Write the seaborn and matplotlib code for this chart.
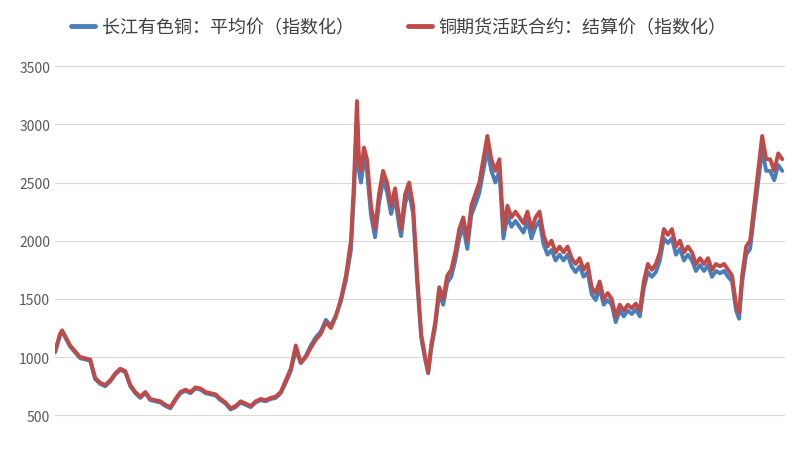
import pandas as pd
import matplotlib.pyplot as plt
import seaborn as sns

sns.set_style("white")
plt.rcParams['font.family'] = ['Noto Sans CJK SC', 'DejaVu Sans']

# time position of each sample (arbitrary time units)
time = ([55, 60, 62, 70, 80, 90, 95, 100, 105, 110, 115, 120, 125, 130, 135, 140, 145, 150]
        + list(range(160, 351, 5))
        + [353, 356, 358, 360, 363, 366]
        + list(range(370, 399, 4)) + list(range(400, 425, 4))
        + [427] + list(range(430, 735, 4)) + [737] + list(range(740, 781, 4)))

# red series: copper futures active contract settlement price (indexed)
futures = [1050, 1200, 1230, 1100, 1000, 980, 820, 780, 760, 800, 860, 900, 880, 760, 700,
           660, 700, 640, 620, 590, 570, 640, 700, 720, 700, 740, 730, 700, 690, 680,
           640, 610, 560, 580, 620, 600, 580, 620, 640, 630, 650, 660, 700, 800, 900,
           1100, 950, 1000, 1080, 1150, 1200, 1300, 1250, 1350, 1500, 1700, 2000, 2500, 3200, 2700,
           2600, 2800, 2700, 2300, 2100, 2400, 2600, 2500, 2300, 2450, 2200, 2100, 2400, 2500, 2300,
           1700, 1200, 1000, 870, 1100, 1300, 1600, 1500, 1700, 1750, 1900, 2100, 2200, 2000, 2300,
           2400, 2500, 2700, 2900, 2700, 2600, 2700, 2100, 2300, 2200, 2250, 2200, 2150, 2250, 2100,
           2200, 2250, 2050, 1950, 2000, 1900, 1950, 1900, 1950, 1850, 1800, 1850, 1750, 1800, 1600,
           1550, 1650, 1500, 1550, 1500, 1350, 1450, 1400, 1450, 1420, 1460, 1400, 1650, 1800, 1750,
           1800, 1900, 2100, 2050, 2100, 1950, 2000, 1900, 1950, 1900, 1800, 1850, 1800, 1850, 1750,
           1800, 1780, 1800, 1750, 1700, 1450, 1380, 1700, 1950, 2000, 2300, 2600, 2900, 2700, 2700,
           2600, 2750, 2700]

# blue series: Changjiang copper average price (indexed)
spot = [1040, 1190, 1220, 1090, 990, 970, 810, 770, 750, 790, 850, 890, 870, 750, 690,
        650, 690, 630, 610, 580, 560, 630, 690, 710, 690, 730, 720, 690, 680, 670,
        630, 600, 550, 570, 610, 590, 570, 610, 630, 620, 640, 650, 690, 780, 880,
        1060, 950, 1010, 1100, 1170, 1220, 1320, 1270, 1360, 1480, 1660, 1920, 2400, 3050, 2600,
        2500, 2700, 2600, 2220, 2030, 2320, 2520, 2420, 2230, 2370, 2130, 2040, 2320, 2420, 2230,
        1650, 1170, 980, 860, 1070, 1260, 1550, 1450, 1640, 1690, 1830, 2020, 2120, 1930, 2220,
        2310, 2410, 2600, 2780, 2600, 2500, 2600, 2020, 2210, 2120, 2170, 2120, 2070, 2170, 2020,
        2120, 2170, 1970, 1880, 1920, 1830, 1880, 1830, 1880, 1780, 1730, 1780, 1690, 1730, 1540,
        1490, 1590, 1450, 1490, 1450, 1300, 1400, 1350, 1400, 1370, 1410, 1350, 1590, 1730, 1690,
        1730, 1830, 2020, 1980, 2020, 1880, 1930, 1830, 1880, 1830, 1740, 1790, 1740, 1790, 1690,
        1740, 1720, 1740, 1690, 1650, 1400, 1330, 1640, 1880, 1930, 2220, 2500, 2780, 2600, 2600,
        2520, 2650, 2600]

labels = ['长江有色铜：平均价（指数化）', '铜期货活跃合约：结算价（指数化）']
colors = ['#4a7ebb', '#be4b48']

df = pd.concat([
    pd.DataFrame({'t': time, 'v': spot, 's': labels[0]}),
    pd.DataFrame({'t': time, 'v': futures, 's': labels[1]}),
])

fig = plt.figure(figsize=(7.98, 4.64), dpi=100)
ax = fig.add_axes([0.069, 0.0, 0.915, 0.903])
sns.lineplot(data=df, x='t', y='v', hue='s', palette=colors, linewidth=2.8, ax=ax, legend=False)

ax.set_xlim(time[0], time[-1] + 3)
ax.set_ylim(90, 3690)
ax.set_yticks([500, 1000, 1500, 2000, 2500, 3000, 3500])
ax.tick_params(axis='y', labelsize=10, colors='#595959', length=0)
ax.set_xticks([])
ax.set_xlabel('')
ax.set_ylabel('')
ax.grid(axis='y', color='#d9d9d9', linewidth=0.8)
for sp in ax.spines.values():
    sp.set_visible(False)

handles = [plt.Line2D([], [], color=c, linewidth=3.5) for c in colors]
fig.legend(handles, labels, loc='center', bbox_to_anchor=(0.5, 0.94), ncol=2,
           frameon=False, fontsize=13, handlelength=1.3, columnspacing=3, handletextpad=0.4,
           labelcolor='#404040')

fig.savefig('out.png', dpi=100)
